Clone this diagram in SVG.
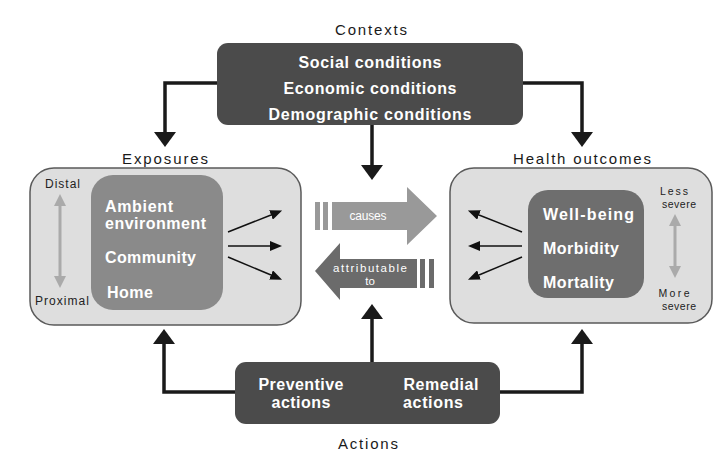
<svg xmlns="http://www.w3.org/2000/svg" width="723" height="468" viewBox="0 0 723 468">
<defs>
<style>
.lbl{font-family:"Liberation Sans",Arial,sans-serif;font-size:15px;fill:#1a1a1a}
.wt{font-family:"Liberation Sans",Arial,sans-serif;font-size:16px;font-weight:bold;fill:#fff}
.sm{font-family:"Liberation Sans",Arial,sans-serif;font-size:12px;fill:#222}
.xs{font-family:"Liberation Sans",Arial,sans-serif;font-size:10.5px;fill:#222}
.ar{font-family:"Liberation Sans",Arial,sans-serif;font-size:12px;fill:#fff}
.conn{fill:none;stroke:#1a1a1a;stroke-width:3.5}
.thin{fill:none;stroke:#111;stroke-width:1.5}
.dark{fill:#4b4b4b}
.outer{fill:#dedede;stroke:#5a5a5a;stroke-width:1.5}
</style>
<marker id="big" markerUnits="userSpaceOnUse" markerWidth="16" markerHeight="22" viewBox="0 0 15 22" refX="0" refY="11" orient="auto">
<path d="M0,0 L15,11 L0,22 Z" fill="#1a1a1a"/>
</marker>
<marker id="sml" markerUnits="userSpaceOnUse" markerWidth="12" markerHeight="10" viewBox="0 0 12 10" refX="0" refY="5" orient="auto">
<path d="M0,0 L12,5 L0,10 Z" fill="#111"/>
</marker>
<marker id="gr" markerUnits="userSpaceOnUse" markerWidth="12" markerHeight="12" viewBox="0 0 12 12" refX="0" refY="6" orient="auto-start-reverse">
<path d="M0,0 L12,6 L0,12 Z" fill="#aaa"/>
</marker>
</defs>

<g id="connectors">
<path class="conn" d="M217,83 H165 V132" marker-end="url(#big)"/>
<path class="conn" d="M523,83 H582 V132" marker-end="url(#big)"/>
<path class="conn" d="M372,125 V165" marker-end="url(#big)"/>
<path class="conn" d="M235,392 H164 V344" marker-end="url(#big)"/>
<path class="conn" d="M500,392 H582 V344" marker-end="url(#big)"/>
<path class="conn" d="M372,362 V319" marker-end="url(#big)"/>
</g>

<g id="contexts">
<text class="lbl" x="371" y="35" text-anchor="middle" textLength="72" lengthAdjust="spacing">Contexts</text>
<rect class="dark" x="217" y="43" width="306" height="82" rx="11"/>
<text class="wt" x="370" y="68" text-anchor="middle" textLength="143" lengthAdjust="spacing">Social conditions</text>
<text class="wt" x="370" y="94" text-anchor="middle" textLength="173" lengthAdjust="spacing">Economic conditions</text>
<text class="wt" x="370" y="120" text-anchor="middle" textLength="203" lengthAdjust="spacing">Demographic conditions</text>
</g>

<g id="exposures">
<text class="lbl" x="165" y="164" text-anchor="middle" textLength="86" lengthAdjust="spacing">Exposures</text>
<rect class="outer" x="30" y="168" width="271" height="157" rx="24"/>
<rect x="91" y="175" width="132" height="135" rx="22" fill="#8a8a8a"/>
<text class="wt" x="105" y="212" textLength="68" lengthAdjust="spacing">Ambient</text>
<text class="wt" x="105" y="229" textLength="101" lengthAdjust="spacing">environment</text>
<text class="wt" x="105" y="263" textLength="91" lengthAdjust="spacing">Community</text>
<text class="wt" x="107" y="298" textLength="46" lengthAdjust="spacing">Home</text>
<text class="sm" x="45" y="188" textLength="35" lengthAdjust="spacing">Distal</text>
<text class="sm" x="35" y="305" textLength="54" lengthAdjust="spacing">Proximal</text>
<path d="M60,206 V276" stroke="#aaa" stroke-width="3" fill="none" marker-start="url(#gr)" marker-end="url(#gr)"/>
<path class="thin" d="M228,232 L271,215" marker-end="url(#sml)"/>
<path class="thin" d="M228,246 L270,246" marker-end="url(#sml)"/>
<path class="thin" d="M228,257 L271,275" marker-end="url(#sml)"/>
</g>

<g id="causes">
<rect x="315" y="202" width="5" height="28" fill="#999"/>
<rect x="323" y="202" width="5" height="28" fill="#999"/>
<path d="M332,202 H407 V187 L437,216 L407,245 V230 H332 Z" fill="#999"/>
<text class="ar" x="368" y="220" text-anchor="middle" textLength="37" lengthAdjust="spacing">causes</text>
</g>

<g id="attributable">
<path d="M417,259 H340 V243 L315,271 L340,300 V288 H417 Z" fill="#6b6b6b"/>
<rect x="420" y="259" width="5" height="29" fill="#6b6b6b"/>
<rect x="429" y="259" width="5" height="29" fill="#6b6b6b"/>
<text class="ar" x="370" y="272" text-anchor="middle" textLength="74" lengthAdjust="spacing" style="font-size:11.5px">attributable</text>
<text class="ar" x="370" y="285" text-anchor="middle" style="font-size:11.5px">to</text>
</g>

<g id="health">
<text class="lbl" x="582" y="164" text-anchor="middle" textLength="138" lengthAdjust="spacing">Health outcomes</text>
<rect class="outer" x="450" y="168" width="262" height="155" rx="24"/>
<rect x="528" y="190" width="116" height="108" rx="20" fill="#6e6e6e"/>
<text class="wt" x="543" y="220" textLength="91" lengthAdjust="spacing">Well-being</text>
<text class="wt" x="543" y="254" textLength="76" lengthAdjust="spacing">Morbidity</text>
<text class="wt" x="543" y="288" textLength="71" lengthAdjust="spacing">Mortality</text>
<text class="xs" x="674" y="195" text-anchor="middle" textLength="28" lengthAdjust="spacing">Less</text>
<text class="xs" x="679" y="208" text-anchor="middle" textLength="34" lengthAdjust="spacing">severe</text>
<text class="xs" x="674" y="297" text-anchor="middle" textLength="31" lengthAdjust="spacing">More</text>
<text class="xs" x="679" y="310" text-anchor="middle" textLength="34" lengthAdjust="spacing">severe</text>
<path d="M675,226 V266" stroke="#aaa" stroke-width="3" fill="none" marker-start="url(#gr)" marker-end="url(#gr)"/>
<path class="thin" d="M522,232 L479,215" marker-end="url(#sml)"/>
<path class="thin" d="M522,246 L480,246" marker-end="url(#sml)"/>
<path class="thin" d="M522,257 L479,275" marker-end="url(#sml)"/>
</g>

<g id="actions">
<rect class="dark" x="235" y="362" width="265" height="62" rx="11"/>
<text class="wt" x="301" y="390" text-anchor="middle" textLength="85" lengthAdjust="spacing">Preventive</text>
<text class="wt" x="301" y="408" text-anchor="middle" textLength="59" lengthAdjust="spacing">actions</text>
<text class="wt" x="441" y="390" text-anchor="middle" textLength="75" lengthAdjust="spacing">Remedial</text>
<text class="wt" x="433" y="408" text-anchor="middle" textLength="60" lengthAdjust="spacing">actions</text>
<text class="lbl" x="368" y="449" text-anchor="middle" textLength="60" lengthAdjust="spacing">Actions</text>
</g>
</svg>
